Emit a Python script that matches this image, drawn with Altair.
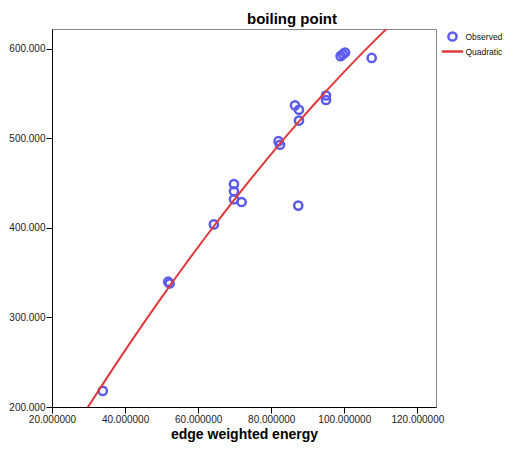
import altair as alt
import pandas as pd

energy = [33.9, 51.8, 52.2, 64.3, 69.8, 69.8, 69.8, 71.9, 82.0, 82.4,
          87.4, 86.5, 87.6, 87.6, 95.0, 95.0, 99.0, 99.6, 100.2, 107.5]
boiling = [218, 340, 338, 404, 449, 441, 432, 429, 497, 493,
           425, 537, 532, 520, 548, 543, 592, 594, 596, 590]

x_ticks = [20, 40, 60, 80, 100, 120]
y_ticks = [200, 300, 400, 500, 600]
series = ["Observed", "Quadratic"]

BLUE = "#5b5bef"
RED = "#e0393b"
FONT = "Liberation Sans"

df = pd.DataFrame({"energy": energy, "boiling": boiling})
df["type"] = "Observed"

xscale = alt.Scale(domain=[20, 125.1], nice=False, zero=False)
yscale = alt.Scale(domain=[200, 622.3], nice=False, zero=False)

xaxis = alt.Axis(values=x_ticks, format=".6f", title="edge weighted energy",
                 grid=False, labelFlush=False, labelOverlap=False,
                 tickSize=6, labelPadding=1, titlePadding=3)
yaxis = alt.Axis(values=y_ticks, format=".3f", title=None,
                 grid=False, labelFlush=False, labelOverlap=False,
                 tickSize=6, labelPadding=1)

X = alt.X("energy:Q", scale=xscale, axis=xaxis)
Y = alt.Y("boiling:Q", scale=yscale, axis=yaxis)

base = alt.Chart(df)

points = base.mark_point(filled=False, size=67, strokeWidth=2.5, opacity=1).encode(
    x=X,
    y=Y,
    color=alt.Color("type:N", scale=alt.Scale(domain=series, range=[BLUE, RED]),
                    legend=alt.Legend(title=None, orient="none", legendX=395, legendY=2,
                                      labelFont=FONT, labelFontSize=8.5, labelColor="#111",
                                      symbolStrokeWidth=2.5, symbolSize=67,
                                      labelOffset=7.5, rowPadding=-4, padding=0)),
    shape=alt.Shape("type:N", scale=alt.Scale(domain=series,
                                              range=["circle", "M-2.6,0L2.6,0"])),
)

fit = base.transform_regression(
    "energy", "boiling", method="poly", order=2, extent=[20, 125.1]
).mark_line(color=RED, strokeWidth=2, clip=True).encode(x=X, y=Y)

chart = alt.layer(points, fit).properties(
    width=384,
    height=378,
    title=alt.Title("boiling point", fontSize=15, fontWeight="bold", font=FONT,
                    anchor="middle", dx=48, offset=2, color="black"),
    padding={"left": 44, "top": 21, "right": 69, "bottom": 35},
    autosize=alt.AutoSizeParams(type="none"),
).configure_view(
    stroke="#888888", strokeWidth=1
).configure_axis(
    domainColor="black", tickColor="black", labelColor="#222",
    labelFont=FONT, labelFontSize=10, titleFont=FONT, titleFontSize=14,
    titleFontWeight="bold", titleColor="black",
)

chart.save("out.html", embed_options={"renderer": "svg", "actions": False})
